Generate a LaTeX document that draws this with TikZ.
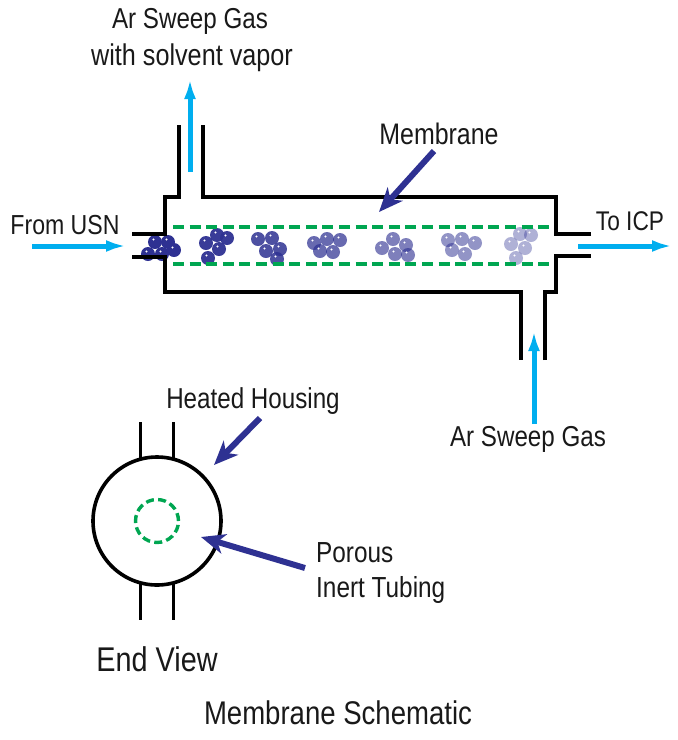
\documentclass[tikz,border=0pt]{standalone}
\usepackage{fontspec}
\setmainfont[FakeStretch=0.84]{Liberation Sans}
\usetikzlibrary{arrows.meta}
\definecolor{navy}{HTML}{2E3192}
\definecolor{sky}{HTML}{00AEEF}
\definecolor{memb}{HTML}{00A651}
\tikzset{
  wall/.style={draw=black,line width=3.4pt,line join=miter},
  pore/.style={draw=memb,line width=3.4pt,dash pattern=on 11pt off 5.6pt},
  flow/.style={draw=sky,line width=5pt,-{Latex[length=20pt,width=12pt]}},
  callout/.style={draw=navy,line width=6pt,-{Stealth[length=24pt,width=20pt,inset=7pt]}},
  lbl/.style={font=\fontsize{#1}{#1}\selectfont,text=black!90,inner sep=0pt},
  lbl/.default=29,
}
\newcommand{\beadat}[3]{%
  \fill[navy,fill opacity=#3] (#1,#2) circle (7pt);
  \fill[white] (#1-1.5,#2-2.5) circle (1.1pt);}
\begin{document}
\begin{tikzpicture}[x=1pt,y=-1pt]
\useasboundingbox (0,0) rectangle (678,740);
% beads
\foreach \a/\b in {155/242,168/242,174/250,162/254,148/254}{\beadat{\a}{\b}{1}}
\foreach \a/\b in {217/235,227/238,206/243,219/249,208/258}{\beadat{\a}{\b}{.95}}
\foreach \a/\b in {258/239,272/238,280/249,266/251,277/259}{\beadat{\a}{\b}{.85}}
\foreach \a/\b in {314/243,327/239,340/240,320/251,333/252}{\beadat{\a}{\b}{.72}}
\foreach \a/\b in {393/239,406/245,382/248,395/254,408/255}{\beadat{\a}{\b}{.62}}
\foreach \a/\b in {448/240,462/239,475/243,452/250,465/254}{\beadat{\a}{\b}{.52}}
\foreach \a/\b in {520/234,531/235,511/244,525/248,516/258}{\beadat{\a}{\b}{.38}}
% housing
\draw[wall] (179,125) -- (179,197) -- (165,197) -- (165,234) -- (132,234);
\draw[wall] (132,257) -- (165,257) -- (165,292) -- (521,292) -- (521,360);
\draw[wall] (545,360) -- (545,292) -- (556,292) -- (556,256) -- (591,256);
\draw[wall] (591,234) -- (556,234) -- (556,197) -- (203,197) -- (203,125);
% membrane
\coordinate (m1a) at (173,227); \coordinate (m1b) at (550,227);
\coordinate (m2a) at (173,264); \coordinate (m2b) at (550,264);
\draw[pore] (m1a) -- (m1b);
\draw[pore] (m2a) -- (m2b);
% end view
\node[circle,draw=black,line width=3.6pt,minimum size=128pt,inner sep=0pt] (housing) at (157,521) {};
\node[circle,pore,dash pattern=on 8pt off 4.3pt,minimum size=43pt,inner sep=0pt] (tube) at (157,521) {};
\draw[wall,line width=3pt] (140,422) -- (140,459);
\draw[wall,line width=3pt] (173,422) -- (173,459);
\draw[wall,line width=3pt] (140,583) -- (140,620);
\draw[wall,line width=3pt] (173,583) -- (173,620);
% flows
\coordinate (f1a) at (190,172); \coordinate (f1b) at (190,79);
\coordinate (f2a) at (32,246); \coordinate (f2b) at (126,246);
\coordinate (f3a) at (578,246); \coordinate (f3b) at (672,246);
\coordinate (f4a) at (534,424); \coordinate (f4b) at (534,331);
\draw[flow] (f1a) -- (f1b);
\draw[flow] (f2a) -- (f2b);
\draw[flow] (f3a) -- (f3b);
\draw[flow] (f4a) -- (f4b);
% callouts
\coordinate (c1a) at (434,151); \coordinate (c1b) at (379,212);
\coordinate (c2a) at (260,418); \coordinate (c2b) at (214,465);
\coordinate (c3a) at (305,568); \coordinate (c3b) at (201,537);
\draw[callout] (c1a) -- (c1b);
\draw[callout] (c2a) -- (c2b);
\draw[callout] (c3a) -- (c3b);
% labels
\node[lbl=28.8] (t1) at (190,21) {Ar Sweep Gas};
\node[lbl=30] (t2) at (192,58) {with solvent vapor};
\node[lbl=29.7] (t3) at (439,134) {Membrane};
\node[lbl=27.5] (t4) at (65,225) {From USN};
\node[lbl=27] (t5) at (630,221) {To ICP};
\node[lbl=28.8] (t6) at (528,439) {Ar Sweep Gas};
\node[lbl=28.8] (t7) at (253,401) {Heated Housing};
\node[lbl=29,anchor=west] (t8) at (316,553) {Porous};
\node[lbl=29,anchor=west] (t9) at (316,590) {Inert Tubing};
\node[lbl=34.3] (t10) at (157,659) {End View};
\node[lbl=32.8] (t11) at (338,713) {Membrane Schematic};
\end{tikzpicture}
\end{document}
